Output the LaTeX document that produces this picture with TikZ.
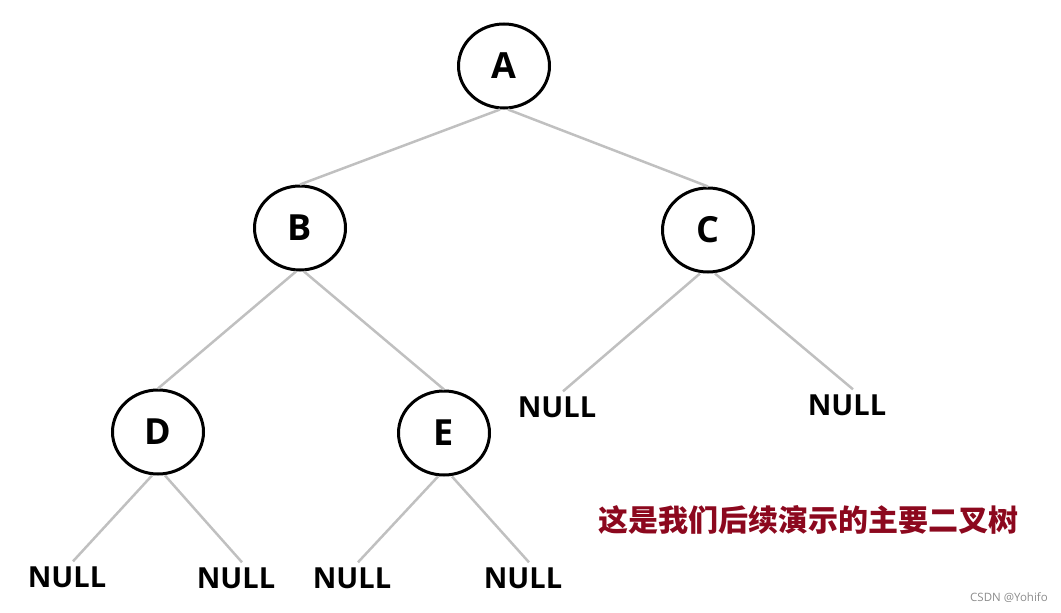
\documentclass[tikz,border=0pt]{standalone}
\usepackage{fontspec}
\setmainfont{Open Sans}
\newfontfamily\cjk{Noto Sans CJK SC}
\usetikzlibrary{shapes.geometric}
\definecolor{edgegray}{RGB}{192,192,192}
\definecolor{notered}{RGB}{140,8,30}

\begin{document}
\begin{tikzpicture}[
  x=1pt, y=-1pt,
  key/.style={draw=black, line width=3pt, ellipse, minimum width=91pt, minimum height=84pt,
              inner sep=0pt, font=\fontsize{36}{40}\selectfont\bfseries},
  null/.style={inner sep=0pt, font=\fontsize{29}{32}\selectfont\bfseries},
  e/.style={draw=edgegray, line width=2.5pt}
]
\useasboundingbox (0,0) rectangle (1061,613);

\node[key] (A) at (504,66) {A};
\node[key] (B) at (300,228) {B};
\node[key] (C) at (708,230) {C};
\node[key] (D) at (158,432) {D};
\node[key] (E) at (444,433) {E};

\node[null] (cl) at (557,407) {NULL};
\node[null] (cr) at (847,405) {NULL};
\node[null] (dl) at (67,577) {NULL};
\node[null] (dr) at (236,578) {NULL};
\node[null] (el) at (352,578) {NULL};
\node[null] (er) at (523,578) {NULL};

\draw[e] ([xshift=-4pt]A.south) -- (B.north);
\draw[e] ([xshift=4pt]A.south) -- (C.north);
\draw[e] ([xshift=-4pt]B.south) -- (D.north);
\draw[e] ([xshift=4pt]B.south) -- (E.north);
% empty children
\draw[e] ([xshift=-8pt]C.south) -- ([xshift=6pt,yshift=5pt]cl.north);
\draw[e] ([xshift=7pt]C.south) -- ([xshift=6pt,yshift=5pt]cr.north);
\draw[e] ([xshift=-6pt]D.south) -- ([xshift=6pt,yshift=5pt]dl.north);
\draw[e] ([xshift=7pt]D.south) -- ([xshift=6pt,yshift=5pt]dr.north);
\draw[e] ([xshift=-6pt]E.south) -- ([xshift=6pt,yshift=5pt]el.north);
\draw[e] ([xshift=8pt]E.south) -- ([xshift=6pt,yshift=5pt]er.north);

\node[font=\cjk\fontsize{30}{34}\selectfont\bfseries, text=notered] (note) at (808,520) {这是我们后续演示的主要二叉树};
\node[font=\fontsize{11.5}{13}\selectfont, text=black!45] (mark) at (1009,598) {CSDN @Yohifo};
\end{tikzpicture}
\end{document}
